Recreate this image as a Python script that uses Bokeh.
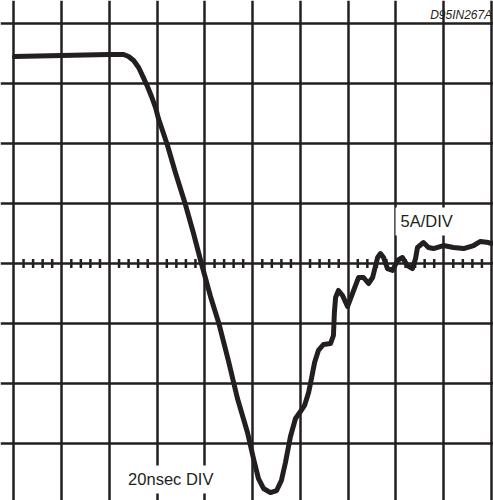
from bokeh.plotting import figure
from bokeh.models import Range1d, FixedTicker, Label
from bokeh.embed import file_html
from bokeh.resources import INLINE

# time in ns (20 ns / div), current in A (5 A / div)
time_ns = [0.2, 19.9, 39.6, 45.9, 48.0, 50.1, 52.2, 54.2, 55.9, 57.6, 59.3, 60.5,
           62.2, 64.3, 67.6, 71.8, 75.2, 78.5, 82.3, 85.7, 89.8, 93.6, 97.8,
           100.3, 102.4, 104.5, 107.4, 110.0, 112.0, 113.7, 115.8, 117.9, 120.0,
           121.7, 123.4, 124.6, 125.9, 127.5, 129.6, 132.6, 133.8, 134.2, 134.7,
           135.9, 137.6, 139.7, 141.8, 144.3, 146.4, 148.5, 150.2, 152.3, 153.5,
           154.8, 156.4, 158.6, 160.6, 162.7, 164.8, 166.9, 168.2, 169.0, 171.5,
           173.6, 175.7, 179.9, 184.1, 188.3, 192.5, 195.4, 198.7, 200.0]
current_a = [17.28, 17.36, 17.45, 17.45, 17.28, 16.94, 16.36, 15.52, 14.77, 13.94,
             13.02, 12.10, 11.10, 9.85, 7.60, 4.92, 2.50, 0.0, -2.75, -4.92,
             -8.10, -11.27, -14.11, -16.28, -17.95, -18.78, -19.12, -18.95,
             -18.11, -16.61, -14.44, -12.94, -12.35, -11.85, -10.77, -9.60,
             -8.26, -7.26, -6.76, -6.68, -6.01, -4.09, -2.84, -2.25, -2.67,
             -3.59, -2.50, -1.17, -1.17, -1.67, -1.17, 0.50, 0.83, 0.50, -0.42,
             -0.58, 0.25, 0.50, -0.17, -0.42, 0.42, 1.34, 1.75, 1.34, 1.25, 1.50,
             1.34, 1.25, 1.50, 1.84, 1.75, 1.67]

x_divs = [0, 20, 40, 60, 80, 100, 120, 140, 160, 180, 200]
y_divs = [-15, -10, -5, 0, 5, 10, 15, 20]

INK = "#231f20"

p = figure(width=493, height=500, output_backend="svg", toolbar_location=None,
           x_axis_location=None, y_axis_location=None, min_border=0,
           x_range=Range1d(-5.654, 200.84), y_range=Range1d(-19.783, 21.953),
           outline_line_color=None, background_fill_color="white",
           border_fill_color="white")

p.xgrid.ticker = FixedTicker(ticks=x_divs)
p.ygrid.ticker = FixedTicker(ticks=y_divs)
for g in (p.xgrid, p.ygrid):
    g.grid_line_color = INK
    g.grid_line_width = 2.5
    g.grid_line_alpha = 1.0

# minor ticks on the centre line (5 subdivisions per division)
minor = [4 * k for k in range(1, 50) if k % 5 != 0]
p.segment(x0=minor, y0=[-0.37] * len(minor), x1=minor, y1=[0.37] * len(minor),
          line_color=INK, line_width=2.5)

p.line(time_ns, current_a, line_color=INK, line_width=5,
       line_join="round", line_cap="round")

p.add_layout(Label(x=45.7, y=-18.03, text="20nsec DIV", text_font="Liberation Sans",
                   text_font_size="16.5px", text_color=INK, text_baseline="middle",
                   text_align="left", background_fill_color="white", padding=5))
p.add_layout(Label(x=159.8, y=3.51, text="5A/DIV", text_font="Liberation Sans",
                   text_font_size="16.5px", text_color=INK, text_baseline="middle",
                   text_align="left", background_fill_color="white", padding=5))
p.add_layout(Label(x=200.3, y=20.75, text="D95IN267A", text_font="Liberation Sans",
                   text_font_size="12px", text_font_style="italic", text_color=INK,
                   text_baseline="middle", text_align="right"))

open("out.html", "w").write(file_html(p, INLINE))
